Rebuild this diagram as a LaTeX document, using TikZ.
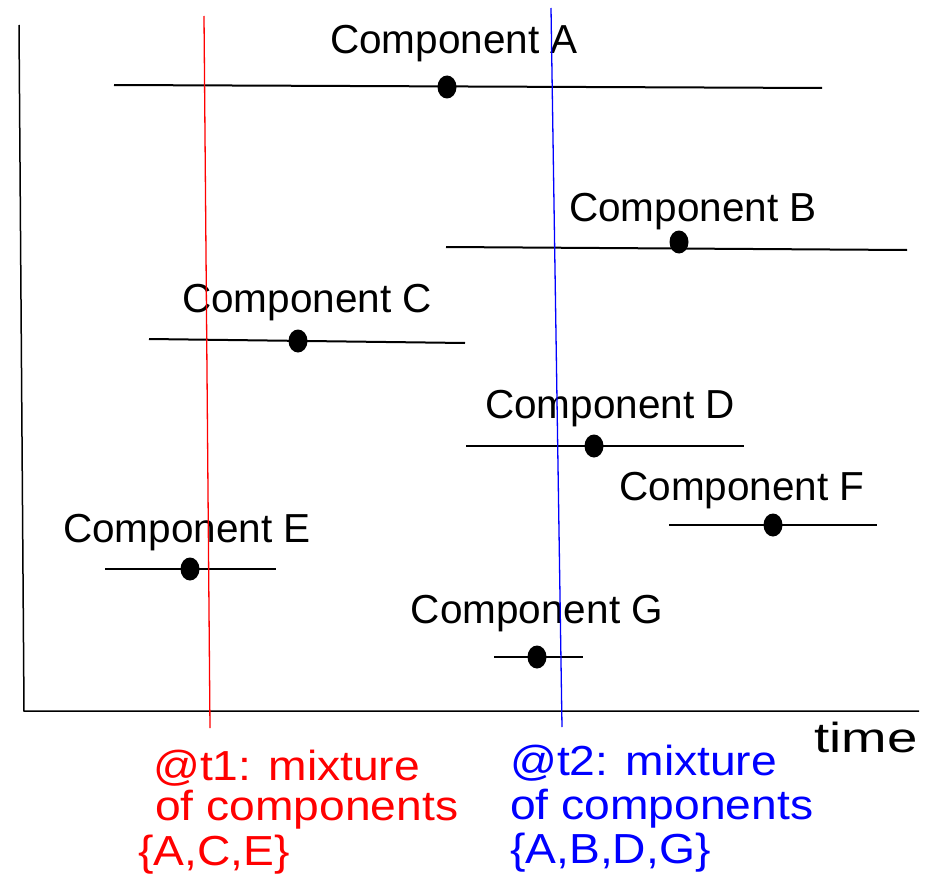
\documentclass[tikz,border=0pt]{standalone}
\usepackage{fontspec}
\setmainfont{Liberation Sans}
\newfontfamily\widefont[FakeStretch=1.1]{Liberation Sans}
\newfontfamily\timefont[FakeStretch=1.3]{Liberation Sans}
\usetikzlibrary{shapes.geometric}
\begin{document}
\begin{tikzpicture}[x=1pt,y=-1pt,
		comp/.style={anchor=base,inner sep=0pt,font=\fontsize{40.5}{48}\selectfont},
		bar/.style={line width=2pt},
		dot/.style={ellipse,fill=black,inner sep=0pt,minimum width=19pt,minimum height=23pt},
		note/.style={anchor=base west,inner sep=0pt,font=\widefont\fontsize{42}{50}\selectfont}]
		\useasboundingbox (0,0) rectangle (935,875);
		% axes
		\draw[line width=1.5pt] (19,25)--(24,711)--(919,711);
		\node[anchor=base east,inner sep=0pt,font=\timefont\fontsize{42}{50}\selectfont] (time) at (918,752) {time};
		% components
		\draw[bar] (114,85)--(822,88);
		\node[dot] (dA) at (447,87) {};
		\node[comp] (lA) at (454,54) {Component A};
		\draw[bar] (446,247)--(907,250);
		\node[dot] (dB) at (679,242) {};
		\node[comp] (lB) at (693,221) {Component B};
		\draw[bar] (149,339)--(465,343);
		\node[dot] (dC) at (298,341) {};
		\node[comp] (lC) at (307,312) {Component C};
		\draw[bar] (466,446)--(744,446);
		\node[dot] (dD) at (594,446) {};
		\node[comp] (lD) at (610,418) {Component D};
		\draw[bar] (669,525)--(877,525);
		\node[dot] (dF) at (773,525) {};
		\node[comp] (lF) at (742,500) {Component F};
		\draw[bar] (105,569)--(276,569);
		\node[dot] (dE) at (190,569) {};
		\node[comp] (lE) at (187,542) {Component E};
		\draw[line width=1.3pt] (494,657)--(583,657);
		\node[dot] (dG) at (537,657) {};
		\node[comp] (lG) at (537,623) {Component G};
		% time instants
		\draw[line width=1.3pt,color=red] (204,16)--(210,728);
		\draw[line width=1.3pt,color=blue] (551,8)--(562,727);
		\node[note,text=red] (r1) at (153,780) {@t1: mixture};
		\node[note,text=red] (r2) at (155,820) {of components};
		\node[note,text=red] (r3) at (138,865) {\{A,C,E\}};
		\node[note,text=blue] (b1) at (510,775) {@t2: mixture};
		\node[note,text=blue] (b2) at (510,819) {of components};
		\node[note,text=blue] (b3) at (510,863) {\{A,B,D,G\}};
	\end{tikzpicture}
\end{document}
